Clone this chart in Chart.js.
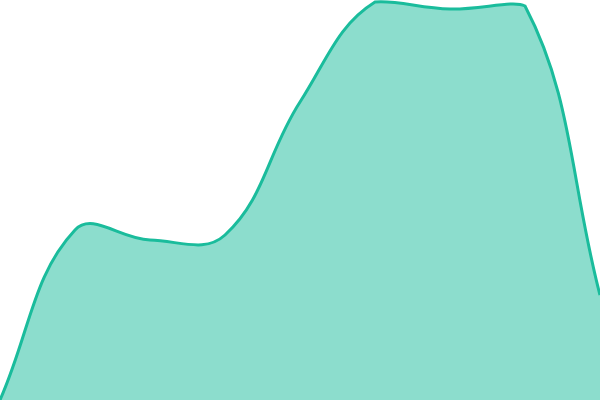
<!DOCTYPE html>
<html>
<head>
<meta charset="utf-8">
<script src="https://cdn.jsdelivr.net/npm/chart.js@4/dist/chart.umd.min.js"></script>
<style>
  html, body { margin: 0; padding: 0; background: #fff; }
  #wrap { width: 600px; height: 400px; }
</style>
</head>
<body>
<div id="wrap"><canvas id="myChart"></canvas></div>
<script>
const labels = ["1", "2", "3", "4", "5", "6", "7", "8", "9"];
const values = [0, 170, 160, 165, 298, 398, 391, 394, 105];

const ctx = document.getElementById("myChart").getContext("2d");
const myChart = new Chart(ctx, {
    type: "line",
    data: {
        labels: labels,
        datasets: [{
            data: values,
            borderColor: "#1abc9c",
            backgroundColor: "rgba(26, 188, 156, 0.5)",
            borderWidth: 3,
            fill: "origin",
            tension: 0.4,
            pointRadius: 0
        }]
    },
    options: {
        responsive: true,
        maintainAspectRatio: false,
        animation: false,
        layout: { padding: 0 },
        plugins: { legend: { display: false }, tooltip: { enabled: false } },
        scales: {
            x: { display: false },
            y: { display: false, min: 0, max: 400 }
        }
    }
});
</script>
</body>
</html>
